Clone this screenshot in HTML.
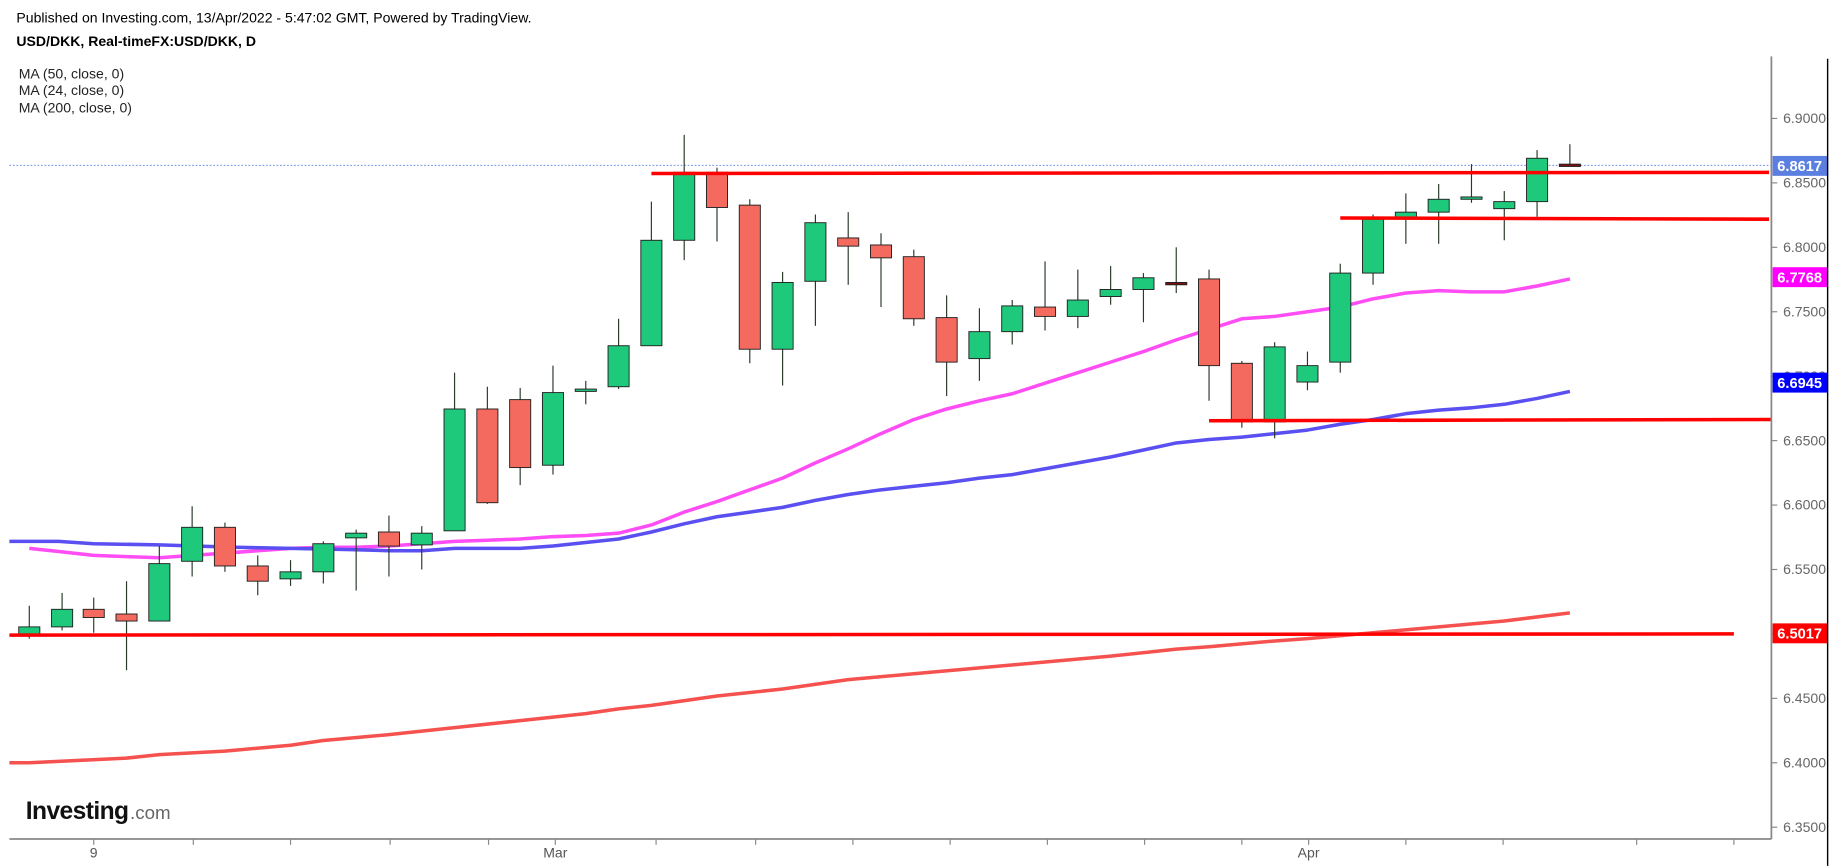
<!DOCTYPE html>
<html><head><meta charset="utf-8"><style>
html,body{margin:0;padding:0;background:#fff;}
svg{display:block;font-family:"Liberation Sans",Arial,sans-serif;}
</style></head><body>
<svg id="c" width="1837" height="866" viewBox="0 0 1568 739" xmlns="http://www.w3.org/2000/svg">
<rect width="1568" height="739" fill="#fff"/>
<text x="14" y="19" font-size="12" fill="#000">Published on Investing.com, 13/Apr/2022 - 5:47:02 GMT, Powered by TradingView.</text>
<text x="14" y="39" font-size="12" font-weight="bold" fill="#000">USD/DKK, Real-timeFX:USD/DKK, D</text>
<text x="16" y="67" font-size="12" fill="#222">MA (50, close, 0)</text>
<text x="16" y="81" font-size="12" fill="#222">MA (24, close, 0)</text>
<text x="16" y="96" font-size="12" fill="#222">MA (200, close, 0)</text>
<g id="g"></g>
<line x1="1512" y1="48" x2="1512" y2="716" stroke="#888" stroke-width="1.5"/>
<line x1="8" y1="716" x2="1512" y2="716" stroke="#888" stroke-width="1.5"/>
<line x1="1560" y1="50" x2="1560" y2="739" stroke="#000" stroke-width="1.2"/>
<text x="22" y="699" font-size="21" font-weight="bold" fill="#111" letter-spacing="-0.5">Investing</text>
<text x="111" y="699" font-size="16" fill="#666">.com</text>
</svg>
<script>
var g=document.getElementById('g'),s='';
function Y(p){return 101+1100*(6.9-p);}
for(var i=0;i<12;i++){var p=6.9-0.05*i,y=Y(p);s+='<line x1="1512" y1="'+y+'" x2="1517" y2="'+y+'" stroke="#888"/><text x="1522" y="'+(y+4)+'" font-size="12" fill="#666">'+p.toFixed(4)+'</text>';}
[80,165,248,333,417,474,560,645,728,811,894,977,1060,1117,1200,1283,1397,1480].forEach(function(x){s+='<line x1="'+x+'" y1="716" x2="'+x+'" y2="721" stroke="#888"/>';});
s+='<text x="80" y="732" font-size="12" fill="#555" text-anchor="middle">9</text><text x="474" y="732" font-size="12" fill="#555" text-anchor="middle">Mar</text><text x="1117" y="732" font-size="12" fill="#555" text-anchor="middle">Apr</text>';
s+='<line x1="8" y1="141" x2="1512" y2="141" stroke="#5b7fe0" stroke-width="0.8" stroke-dasharray="1.5,1.5"/>';
function pl(pts,c){return '<polyline fill="none" stroke="'+c+'" stroke-width="3" stroke-linejoin="round" points="'+pts.map(function(q){return q.join(',')}).join(' ')+'"/>';}
s+=pl([[8,651],[25,651],[108,647],[136,644],[192,641],[248,636],[276,632],[332,627],[388,621],[444,615],[500,609],[528,605],[556,602],[612,594],[668,588],[724,580],[780,575],[836,570],[892,565],[948,560],[1004,554],[1032,552],[1088,547],[1116,545],[1172,540],[1228,535],[1284,530],[1340,523]],'#f5524f');
s+=pl([[25,468],[53,471],[80,474],[108,475],[136,476],[164,474],[192,472],[220,470],[248,468],[276,467],[304,467],[332,466],[360,464],[388,462],[416,461],[444,460],[472,458],[500,457],[528,455],[556,448],[584,437],[612,428],[640,418],[668,408],[696,395],[724,383],[752,370],[780,358],[808,349],[836,342],[864,336],[892,327],[920,318],[948,309],[976,300],[1004,290],[1032,281],[1060,272],[1088,270],[1116,266],[1144,262],[1172,255],[1200,250],[1228,248],[1256,249],[1284,249],[1312,244],[1340,238]],'#ff4df5');
s+=pl([[8,462],[50,462],[80,464],[136,465],[200,467],[248,468],[300,469],[332,470],[360,470],[388,468],[444,468],[472,466],[500,463],[528,460],[556,454],[584,447],[612,441],[640,437],[668,433],[696,427],[724,422],[752,418],[780,415],[808,412],[836,408],[864,405],[892,400],[920,395],[948,390],[976,384],[1004,378],[1032,375],[1060,373],[1088,370],[1116,367],[1144,362],[1172,358],[1200,353],[1228,350],[1256,348],[1284,345],[1312,340],[1340,334]],'#5a4ff0');
var C=[[25,1,535,541,517,545],[53,1,520,535,506,538],[80,0,520,527,510,540],[108,0,524,530,496,572],[136,1,481,530,466,530],[164,1,450,479,432,492],[192,0,450,483,446,488],[220,0,483,496,474,508],[248,1,488,494,478,500],[276,1,464,488,462,498],[304,1,455,459,452,504],[332,0,454,466,440,492],[360,1,455,465,449,486],[388,1,349,453,318,453],[416,0,349,429,330,430],[444,0,341,399,331,414],[472,1,335,397,312,405],[500,1,332,334,325,345],[528,1,295,330,272,332],[556,1,205,295,172,295],[584,1,147,205,115,222],[612,0,147,177,143,206],[640,0,175,298,170,310],[668,1,241,298,232,329],[696,1,190,240,183,278],[724,0,203,210,181,243],[752,0,209,220,199,262],[780,0,219,272,213,278],[808,0,271,309,252,338],[836,1,283,306,263,325],[864,1,261,283,256,294],[892,0,262,270,223,282],[920,1,256,270,230,280],[948,1,247,253,227,260],[976,1,237,247,233,275],[1004,2,241,243,211,250],[1032,0,238,312,230,342],[1060,0,310,360,308,365],[1088,1,296,360,292,374],[1116,1,312,326,300,333],[1144,1,233,309,225,318],[1172,1,187,233,183,243],[1200,1,181,186,165,208],[1228,1,170,181,157,208],[1256,1,168,170,140,173],[1284,1,172,178,163,205],[1312,1,135,172,128,185],[1340,2,140,142,123,141]];
C.forEach(function(c){var f=c[1]==1?'#1ec97c':(c[1]==0?'#f56a5e':'#7a1010');
s+='<line x1="'+c[0]+'" y1="'+c[4]+'" x2="'+c[0]+'" y2="'+c[5]+'" stroke="#2a3a2a" stroke-width="1"/>';
s+='<rect x="'+(c[0]-9)+'" y="'+c[2]+'" width="18" height="'+Math.max(2,c[3]-c[2])+'" fill="'+f+'" stroke="#222" stroke-width="0.8"/>';});
s+='<line x1="556" y1="148" x2="1510" y2="147" stroke="#ff0000" stroke-width="3"/>';
s+='<line x1="1144" y1="186" x2="1510" y2="187" stroke="#ff0000" stroke-width="3"/>';
s+='<line x1="1032" y1="359" x2="1512" y2="358" stroke="#ff0000" stroke-width="3"/>';
s+='<line x1="8" y1="542" x2="1480" y2="541" stroke="#ff0000" stroke-width="3"/>';
function lab(y,t,c){s+='<rect x="1513" y="'+(y-8)+'" width="47" height="17" fill="'+c+'"/><text x="1517" y="'+(y+5)+'" font-size="12.5" font-weight="bold" fill="#fff">'+t+'</text>';}
lab(141,'6.8617','#5b7fe0');lab(236,'6.7768','#ff00ff');lab(326,'6.6945','#0000ff');lab(540,'6.5017','#ff0000');
g.innerHTML=s;
</script>
</body></html>
